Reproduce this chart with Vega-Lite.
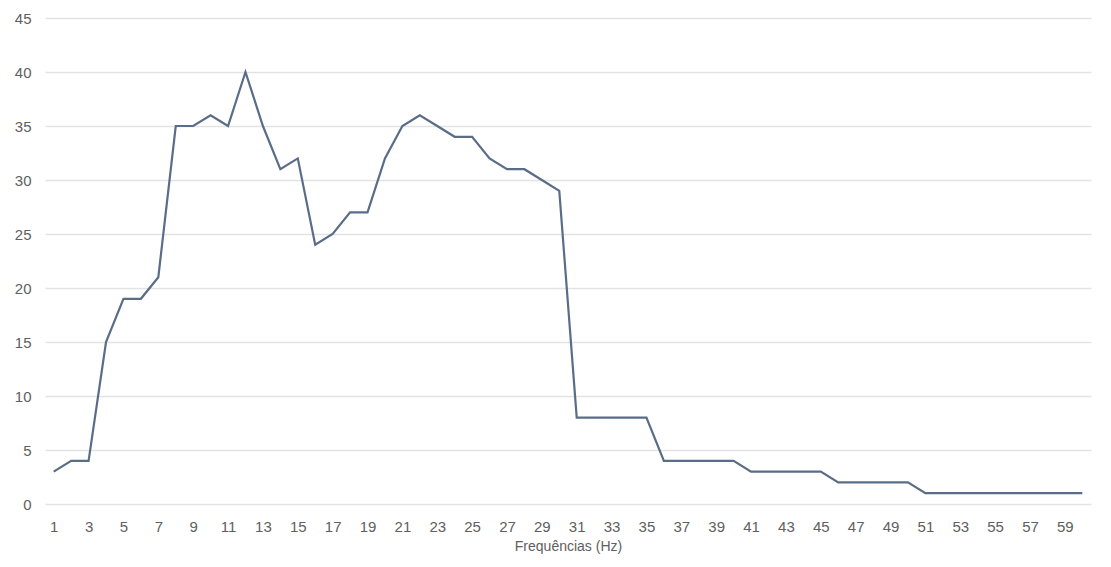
{
  "$schema": "https://vega.github.io/schema/vega-lite/v6.json",
  "width": 1046,
  "height": 486,
  "autosize": {"type": "none"},
  "padding": {"left": 45, "top": 18, "right": 20, "bottom": 63},
  "background": "white",
  "config": {
    "view": {"stroke": null},
    "font": "Liberation Sans"
  },
  "data": {
    "values": [
      {"f": 1, "v": 3}, {"f": 2, "v": 4}, {"f": 3, "v": 4}, {"f": 4, "v": 15}, {"f": 5, "v": 19},
      {"f": 6, "v": 19}, {"f": 7, "v": 21}, {"f": 8, "v": 35}, {"f": 9, "v": 35}, {"f": 10, "v": 36},
      {"f": 11, "v": 35}, {"f": 12, "v": 40}, {"f": 13, "v": 35}, {"f": 14, "v": 31}, {"f": 15, "v": 32},
      {"f": 16, "v": 24}, {"f": 17, "v": 25}, {"f": 18, "v": 27}, {"f": 19, "v": 27}, {"f": 20, "v": 32},
      {"f": 21, "v": 35}, {"f": 22, "v": 36}, {"f": 23, "v": 35}, {"f": 24, "v": 34}, {"f": 25, "v": 34},
      {"f": 26, "v": 32}, {"f": 27, "v": 31}, {"f": 28, "v": 31}, {"f": 29, "v": 30}, {"f": 30, "v": 29},
      {"f": 31, "v": 8}, {"f": 32, "v": 8}, {"f": 33, "v": 8}, {"f": 34, "v": 8}, {"f": 35, "v": 8},
      {"f": 36, "v": 4}, {"f": 37, "v": 4}, {"f": 38, "v": 4}, {"f": 39, "v": 4}, {"f": 40, "v": 4},
      {"f": 41, "v": 3}, {"f": 42, "v": 3}, {"f": 43, "v": 3}, {"f": 44, "v": 3}, {"f": 45, "v": 3},
      {"f": 46, "v": 2}, {"f": 47, "v": 2}, {"f": 48, "v": 2}, {"f": 49, "v": 2}, {"f": 50, "v": 2},
      {"f": 51, "v": 1}, {"f": 52, "v": 1}, {"f": 53, "v": 1}, {"f": 54, "v": 1}, {"f": 55, "v": 1},
      {"f": 56, "v": 1}, {"f": 57, "v": 1}, {"f": 58, "v": 1}, {"f": 59, "v": 1}, {"f": 60, "v": 1}
    ]
  },
  "mark": {"type": "line", "color": "#5a6d88", "strokeWidth": 2.2, "strokeJoin": "miter"},
  "encoding": {
    "x": {
      "field": "f",
      "type": "quantitative",
      "scale": {"domain": [0.5, 60.5], "nice": false, "zero": false},
      "axis": {
        "title": "Frequências (Hz)",
        "values": [1,3,5,7,9,11,13,15,17,19,21,23,25,27,29,31,33,35,37,39,41,43,45,47,49,51,53,55,57,59],
        "grid": false,
        "domain": false,
        "ticks": false,
        "labelPadding": 15,
        "labelFontSize": 15,
        "labelColor": "#606060",
        "titleFontSize": 14,
        "titleFontWeight": "normal",
        "titleColor": "#606060",
        "titlePadding": 5
      }
    },
    "y": {
      "field": "v",
      "type": "quantitative",
      "scale": {"domain": [0, 45], "nice": false},
      "axis": {
        "title": null,
        "values": [0, 5, 10, 15, 20, 25, 30, 35, 40, 45],
        "domain": false,
        "ticks": false,
        "gridColor": "#e3e3e3",
        "gridWidth": 1.5,
        "labelPadding": 14,
        "labelFontSize": 15,
        "labelColor": "#606060"
      }
    }
  }
}
